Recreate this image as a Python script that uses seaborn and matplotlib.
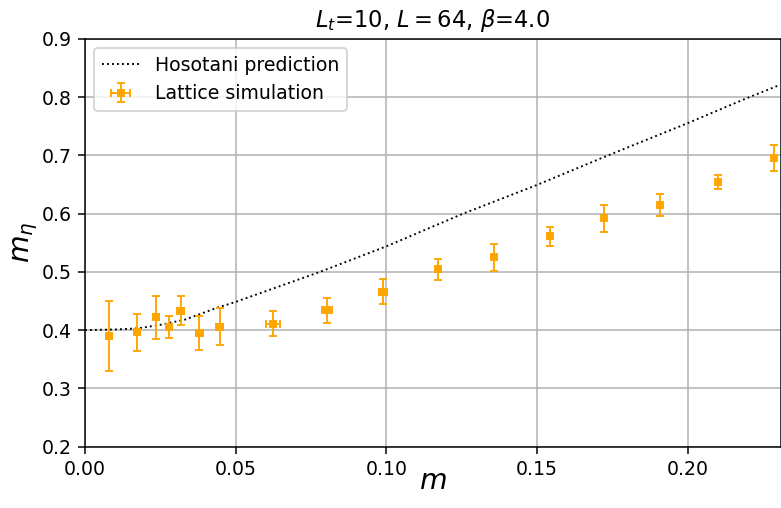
import matplotlib
matplotlib.use("Agg")
import matplotlib.pyplot as plt
import seaborn as sns
import pandas as pd

# Hosotani prediction
pred_m = [0.0, 0.010, 0.0177, 0.025, 0.0332, 0.0442, 0.0498, 0.078, 0.1001,
          0.1255, 0.1499, 0.1731, 0.1996, 0.2195, 0.2306]
pred_eta = [0.400, 0.401, 0.403, 0.409, 0.418, 0.439, 0.448, 0.500, 0.544,
            0.600, 0.649, 0.699, 0.7545, 0.798, 0.821]

# lattice simulation
sim_m = [0.0081, 0.0174, 0.0236, 0.0278, 0.0318, 0.0379, 0.0447, 0.0624,
         0.0803, 0.0988, 0.1170, 0.1356, 0.1544, 0.1722, 0.1909, 0.2100, 0.2287]
sim_m_err = [0.0008, 0.0010, 0.0010, 0.0005, 0.0012, 0.0012, 0.0012, 0.0024,
             0.0018, 0.0014, 0.0004, 0.0003, 0.0003, 0.0003, 0.0003, 0.0003, 0.0003]
sim_eta = [0.390, 0.396, 0.422, 0.405, 0.433, 0.395, 0.406, 0.411,
           0.434, 0.466, 0.504, 0.525, 0.561, 0.592, 0.615, 0.654, 0.695]
sim_eta_err = [0.060, 0.032, 0.037, 0.019, 0.025, 0.029, 0.032, 0.022,
               0.021, 0.021, 0.018, 0.023, 0.016, 0.023, 0.019, 0.012, 0.022]

pred = pd.DataFrame({"m": pred_m, "m_eta": pred_eta})

fig, ax = plt.subplots(figsize=(781 / 136, 508 / 136), dpi=136)
fig.subplots_adjust(left=0.1088, right=1.0, top=0.9236, bottom=0.1209)

sns.lineplot(data=pred, x="m", y="m_eta", ax=ax, color="black",
             linestyle=":", linewidth=1.0, label="Hosotani prediction")
ax.errorbar(sim_m, sim_eta, xerr=sim_m_err, yerr=sim_eta_err, fmt="s",
            color="orange", markersize=3, capsize=2, elinewidth=1,
            label="Lattice simulation")

ax.set_xlim(0, 0.2309)
ax.set_ylim(0.2, 0.9)
ax.grid(True)
ax.set_xlabel("$m$", fontsize=15, labelpad=-6)
ax.set_ylabel("$m_\\eta$", fontsize=15, labelpad=1)
ax.set_title("$L_t$=10, $L=64$, $\\beta$=4.0")
ax.legend(loc="upper left")

fig.savefig("out.png", dpi=136)
